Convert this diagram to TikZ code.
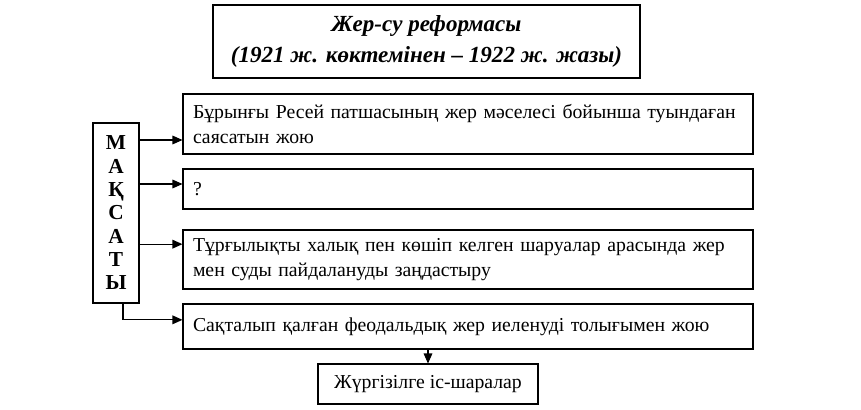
\documentclass[tikz,border=0pt]{standalone}
\usepackage{fontspec}
\setmainfont{Liberation Serif}
\usetikzlibrary{arrows.meta}
\begin{document}
\begin{tikzpicture}[x=0.75pt,y=-0.75pt,line width=0.8pt,
  goal/.style={draw,minimum height=#1,text width=412.5pt,inner xsep=7.5pt,align=left,font=\fontsize{14.8}{18.5}\selectfont},
  arr/.style={-{Triangle[length=7.5pt,width=6.5pt]}}]
\path[use as bounding box] (0,0) rectangle (861,410);
% title
\node[draw,minimum width=320.25pt,minimum height=54.75pt,align=center,
  font=\fontsize{17.3}{23}\selectfont\bfseries\itshape] (title) at (426.5,41.5)
  {Жер-су реформасы\\(1921 ж. көктемінен -- 1922 ж. жазы)};
% vertical word
\node[draw,minimum width=34.5pt,minimum height=135pt,align=center,inner sep=0pt,
  font=\fontsize{16}{17.5}\selectfont\bfseries] (mak) at (116,213)
  {М\\А\\Қ\\С\\А\\Т\\Ы};
% goals
\node[goal=45pt] (b1) at (468,124)
  {Бұрынғы Ресей патшасының жер мәселесі бойынша туындаған\\саясатын жою};
\node[goal=30pt] (b2) at (468,189) {?};
\node[goal=44.25pt] (b3) at (468,259.5)
  {Тұрғылықты халық пен көшіп келген шаруалар арасында жер\\мен суды пайдалануды заңдастыру};
\node[goal=33.75pt] (b4) at (468,326.5)
  {Сақталып қалған феодальдық жер иеленуді толығымен жою};
\node[draw,minimum width=165pt,minimum height=30pt,font=\fontsize{14.8}{18.5}\selectfont] (b5) at (428,384)
  {Жүргізілге іс-шаралар};
% arrows
\coordinate (a1) at ([yshift=-12pt]b1.west);
\coordinate (a2) at ([yshift=3.75pt]b2.west);
\coordinate (a3) at ([yshift=11.5pt]b3.west);
\coordinate (a4) at ([yshift=5pt]b4.west);
\draw[arr] (mak.east |- a1) -- (a1);
\draw[arr] (mak.east |- a2) -- (a2);
\draw[arr] (mak.east |- a3) -- (a3);
\draw[arr] ([xshift=5.25pt]mak.south) |- (a4);
\draw[arr] (b5.north |- b4.south) -- (b5.north);
\end{tikzpicture}
\end{document}
